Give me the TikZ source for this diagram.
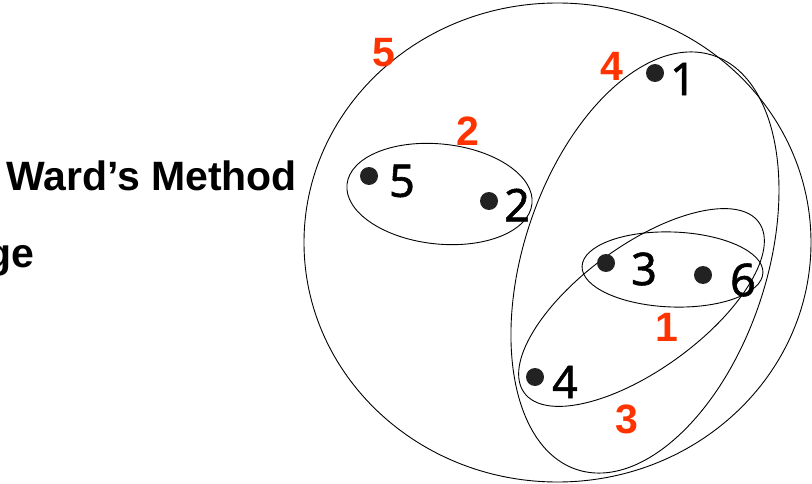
\documentclass[tikz,border=0pt]{standalone}
\usepackage{fontspec}
\usetikzlibrary{positioning}
\newfontfamily\arialfont{Liberation Sans}
\newfontfamily\digitfont{Noto Sans}[FakeBold=1.2]
\definecolor{mergeColor}{RGB}{255,51,0}
\definecolor{dotColor}{RGB}{34,34,34}
\newcommand{\titlefont}{\arialfont\bfseries\fontsize{41}{49}\selectfont}
\newcommand{\ptfont}{\digitfont\fontsize{45}{54}\selectfont}
\newcommand{\stepfont}{\arialfont\bfseries\fontsize{41}{49}\selectfont}

\begin{document}
\begin{tikzpicture}[x=1pt, y=1pt,
    pt/.style={circle, fill=dotColor, inner sep=0pt, minimum size=18pt},
    ptlabel/.style={font=\ptfont, inner sep=0pt},
    merge/.style={font=\stepfont, text=mergeColor, inner sep=0pt},
    cluster/.style={draw, line width=0.9pt},
    title/.style={font=\titlefont, inner sep=0pt}
  ]
  \useasboundingbox (0,0) rectangle (812,483);
  \clip (0,0) rectangle (812,483);

  % titles on the left
  \node[title, anchor=base west] (ward) at (6,292.5) {Ward’s Method};
  \node[title, anchor=base east] (link) at (34.5,216) {ge};

  % clusters
  \coordinate (c5) at (557.5,240.5);
  \coordinate (c4) at (645,220.5);
  \coordinate (c3) at (641.5,175.5);
  \coordinate (c2) at (439.5,289);
  \coordinate (c1) at (672.5,213.5);
  \draw[cluster] (c5) ellipse [x radius=253.5, y radius=239.5];
  \draw[cluster, rotate around={-18.2:(c4)}] (c4) ellipse [x radius=121.5, y radius=218];
  \draw[cluster, rotate around={36:(c3)}] (c3) ellipse [x radius=145, y radius=62];
  \draw[cluster, rotate around={-6:(c2)}] (c2) ellipse [x radius=93, y radius=50];
  \draw[cluster, rotate around={-2:(c1)}] (c1) ellipse [x radius=90.5, y radius=37.5];

  % points
  \node[pt] (p1) at (655,410) {};
  \node[pt] (p2) at (489,282) {};
  \node[pt] (p3) at (606,220) {};
  \node[pt] (p4) at (535,106) {};
  \node[pt] (p5) at (369,307) {};
  \node[pt] (p6) at (703,208) {};
  \node[ptlabel] (l1) at (683,404) {1};
  \node[ptlabel] (l2) at (517,278) {2};
  \node[ptlabel] (l3) at (644,214) {3};
  \node[ptlabel] (l4) at (565,101) {4};
  \node[ptlabel] (l5) at (402,302) {5};
  \node[ptlabel] (l6) at (743,203) {6};

  % merge order
  \node[merge] (m1) at (667,156) {1};
  \node[merge] (m2) at (468,352) {2};
  \node[merge] (m3) at (627,64) {3};
  \node[merge] (m4) at (612,417) {4};
  \node[merge] (m5) at (384,430) {5};
\end{tikzpicture}
\end{document}
